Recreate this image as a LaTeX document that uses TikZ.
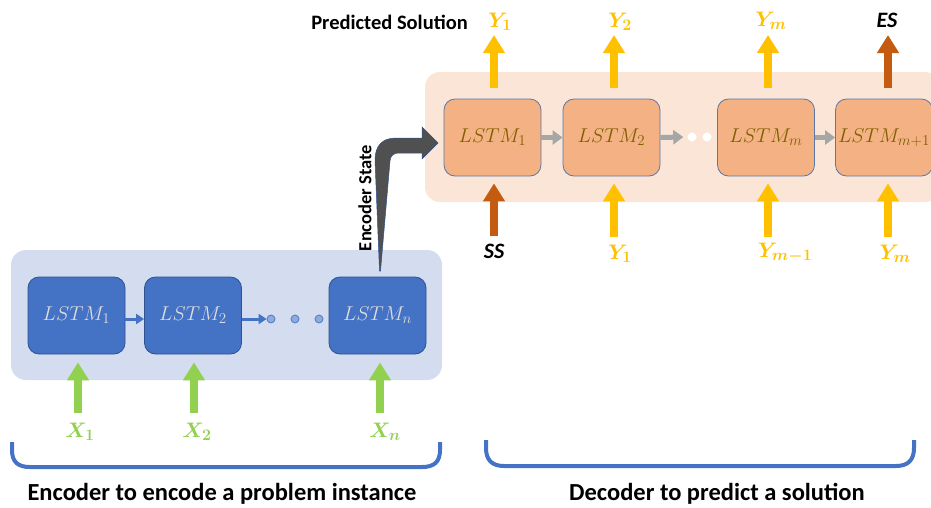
\documentclass[tikz,border=0pt]{standalone}
\usepackage{fix-cm}
\usepackage{amsmath,bm}
\usepackage{fontspec}
\newfontfamily\carl{Carlito}
\usetikzlibrary{arrows.meta}
\DeclareMathSizes{20}{20}{15}{11}
\DeclareMathSizes{21}{21}{16}{12}
\definecolor{encbg}{HTML}{D3DDEF}
\definecolor{encfill}{HTML}{4472C4}
\definecolor{encedge}{HTML}{2F528F}
\definecolor{enctext}{HTML}{DDDDDD}
\definecolor{decbg}{HTML}{FBE5D6}
\definecolor{decfill}{HTML}{F4B183}
\definecolor{decedge}{HTML}{5A78A8}
\definecolor{dectext}{HTML}{7F6000}
\definecolor{ygold}{HTML}{FFC000}
\definecolor{dorange}{HTML}{C55A11}
\definecolor{lgreen}{HTML}{92D050}
\definecolor{agray}{HTML}{A6A6A6}
\definecolor{dgray}{HTML}{505050}
\definecolor{dotfill}{HTML}{8FAADC}
\tikzset{
  encbox/.style={draw=encedge, fill=encfill, rounded corners=11pt, line width=0.8pt,
    minimum width=97pt, minimum height=77pt, inner sep=0pt, text=enctext,
    font=\fontsize{20}{22}\selectfont},
  decbox/.style={draw=decedge, fill=decfill, rounded corners=11pt, line width=0.8pt,
    minimum width=97pt, minimum height=77pt, inner sep=0pt, text=dectext,
    font=\fontsize{20}{22}\selectfont},
  blockarrow/.style={line width=8pt, -{Triangle[width=21pt,length=18pt]}},
  garrow/.style={blockarrow, draw=lgreen},
  yarrow/.style={blockarrow, draw=ygold},
  oarrow/.style={blockarrow, draw=dorange},
  grayarrow/.style={draw=agray, line width=5pt, -{Triangle[width=14pt,length=10pt]}},
  bluearrow/.style={draw=encfill, line width=3pt, -{Triangle[width=10pt,length=8pt]}},
  encdot/.style={circle, draw=encfill, fill=dotfill, line width=0.7pt, minimum size=8pt, inner sep=0pt},
  decdot/.style={circle, fill=white, minimum size=9pt, inner sep=0pt},
  mlabel/.style={font=\fontsize{21}{23}\selectfont, inner sep=0pt},
  brace/.style={draw=encfill, line width=4pt},
  caption/.style={font=\carl\bfseries\fontsize{24.5}{27}\selectfont, inner sep=0pt},
  sslabel/.style={font=\carl\bfseries\itshape\fontsize{22}{24}\selectfont, inner sep=0pt},
}
\begin{document}
\begin{tikzpicture}[x=1pt,y=-1pt]
\useasboundingbox (0,0) rectangle (931,507);
\clip (0,0) rectangle (931,507);

% backgrounds
\fill[encbg, rounded corners=15pt] (11,250) rectangle (442,380);
\fill[decbg, rounded corners=15pt] (425,72) rectangle (940,202);

% encoder boxes
\node[encbox] (e1) at (76.5,315.5) {$LSTM_1$};
\node[encbox] (e2) at (193,315.5) {$LSTM_2$};
\node[encbox] (en) at (377.5,315.5) {$LSTM_n$};
\node[encdot] (ed1) at (271,319) {};
\node[encdot] (ed2) at (295,319) {};
\node[encdot] (ed3) at (319,319) {};
\draw[bluearrow] (e1.east |- ed1) -- (e2.west |- ed1);
\draw[bluearrow] (e2.east |- ed1) -- (ed1.west);

% encoder inputs
\node[mlabel, text=lgreen] (x1) at (80,432) {$\bm{X_1}$};
\node[mlabel, text=lgreen] (x2) at (197,432) {$\bm{X_2}$};
\node[mlabel, text=lgreen] (xn) at (385,432) {$\bm{X_n}$};
\coordinate (gx1) at (78,413);
\coordinate (gx2) at (194,413);
\coordinate (gxn) at (380,413);
\draw[garrow, shorten >=8pt] (gx1) -- (gx1 |- e1.south);
\draw[garrow, shorten >=8pt] (gx2) -- (gx2 |- e2.south);
\draw[garrow, shorten >=8pt] (gxn) -- (gxn |- en.south);

% decoder boxes
\node[decbox] (d1) at (492.5,137.5) {$LSTM_1$};
\node[decbox] (d2) at (611.5,137.5) {$LSTM_2$};
\node[decbox] (dm) at (766,137.5) {$LSTM_m$};
\node[decbox] (dm1) at (884,137.5) {$LSTM_{m+1}$};
\node[decdot] (dd1) at (692,137) {};
\node[decdot] (dd2) at (707,137) {};
\draw[grayarrow] (d1.east) -- (d2.west);
\draw[grayarrow] (d2.east) -- ([xshift=-4pt]dd1.west);
\draw[grayarrow] (dm.east) -- (dm1.west);

% decoder outputs
\node[mlabel, text=ygold] (oy1) at (500,22) {$\bm{Y_1}$};
\node[mlabel, text=ygold] (oy2) at (620,22) {$\bm{Y_2}$};
\node[mlabel, text=ygold] (oym) at (771,21) {$\bm{Y_m}$};
\node[sslabel] (oes) at (887,20) {ES};
\coordinate (ty1) at (494,35);
\coordinate (ty2) at (614,35);
\coordinate (tym) at (768,35);
\coordinate (tes) at (888,35);
\draw[yarrow, shorten <=11pt] (ty1 |- d1.north) -- (ty1);
\draw[yarrow, shorten <=11pt] (ty2 |- d2.north) -- (ty2);
\draw[yarrow, shorten <=11pt] (tym |- dm.north) -- (tym);
\draw[oarrow, shorten <=11pt] (tes |- dm1.north) -- (tes);
\node[caption, font=\carl\bfseries\fontsize{20.5}{23}\selectfont, anchor=east] (pred) at (468,22) {Predicted Solution};

% decoder inputs
\node[sslabel] (iss) at (494,251) {SS};
\node[mlabel, text=ygold] (iy1) at (620,254) {$\bm{Y_1}$};
\node[mlabel, text=ygold] (iym1) at (785,253) {$\bm{Y_{m-1}}$};
\node[mlabel, text=ygold] (iym) at (895,254) {$\bm{Y_m}$};
\coordinate (by1) at (494,236);
\coordinate (by2) at (614,237);
\coordinate (bym) at (768,237);
\coordinate (bym1) at (888,237);
\draw[oarrow, shorten >=7pt] (by1) -- (by1 |- d1.south);
\draw[yarrow, shorten >=7pt] (by2) -- (by2 |- d2.south);
\draw[yarrow, shorten >=7pt] (bym) -- (bym |- dm.south);
\draw[yarrow, shorten >=7pt] (bym1) -- (bym1 |- dm1.south);

% encoder state arrow
\filldraw[fill=dgray, draw=encedge, line width=0.5pt] (379.5,271) -- (375,160) .. controls (375,146) and (382,138) .. (396,138)
  -- (422,138) -- (422,127) -- (438,143) -- (422,159) -- (422,153) -- (398,153)
  .. controls (394,153) and (390,156) .. (390,161) -- (380.5,271) -- cycle;
\node[caption, font=\carl\bfseries\fontsize{18.5}{21}\selectfont, rotate=90] (est) at (365,198) {Encoder State};

% braces
\draw[brace] (12,442) -- (12,450) .. controls (12,462) and (18,467) .. (30,467)
  -- (422,467) .. controls (434,467) and (440,462) .. (440,450) -- (440,442);
\draw[brace] (486,440) -- (486,448) .. controls (486,460) and (492,466) .. (504,466)
  -- (896,466) .. controls (908,466) and (914,460) .. (914,448) -- (914,440);
\node[caption] (encap) at (222,494) {Encoder to encode a problem instance};
\node[caption] (decap) at (717,494) {Decoder to predict a solution};
\end{tikzpicture}
\end{document}
